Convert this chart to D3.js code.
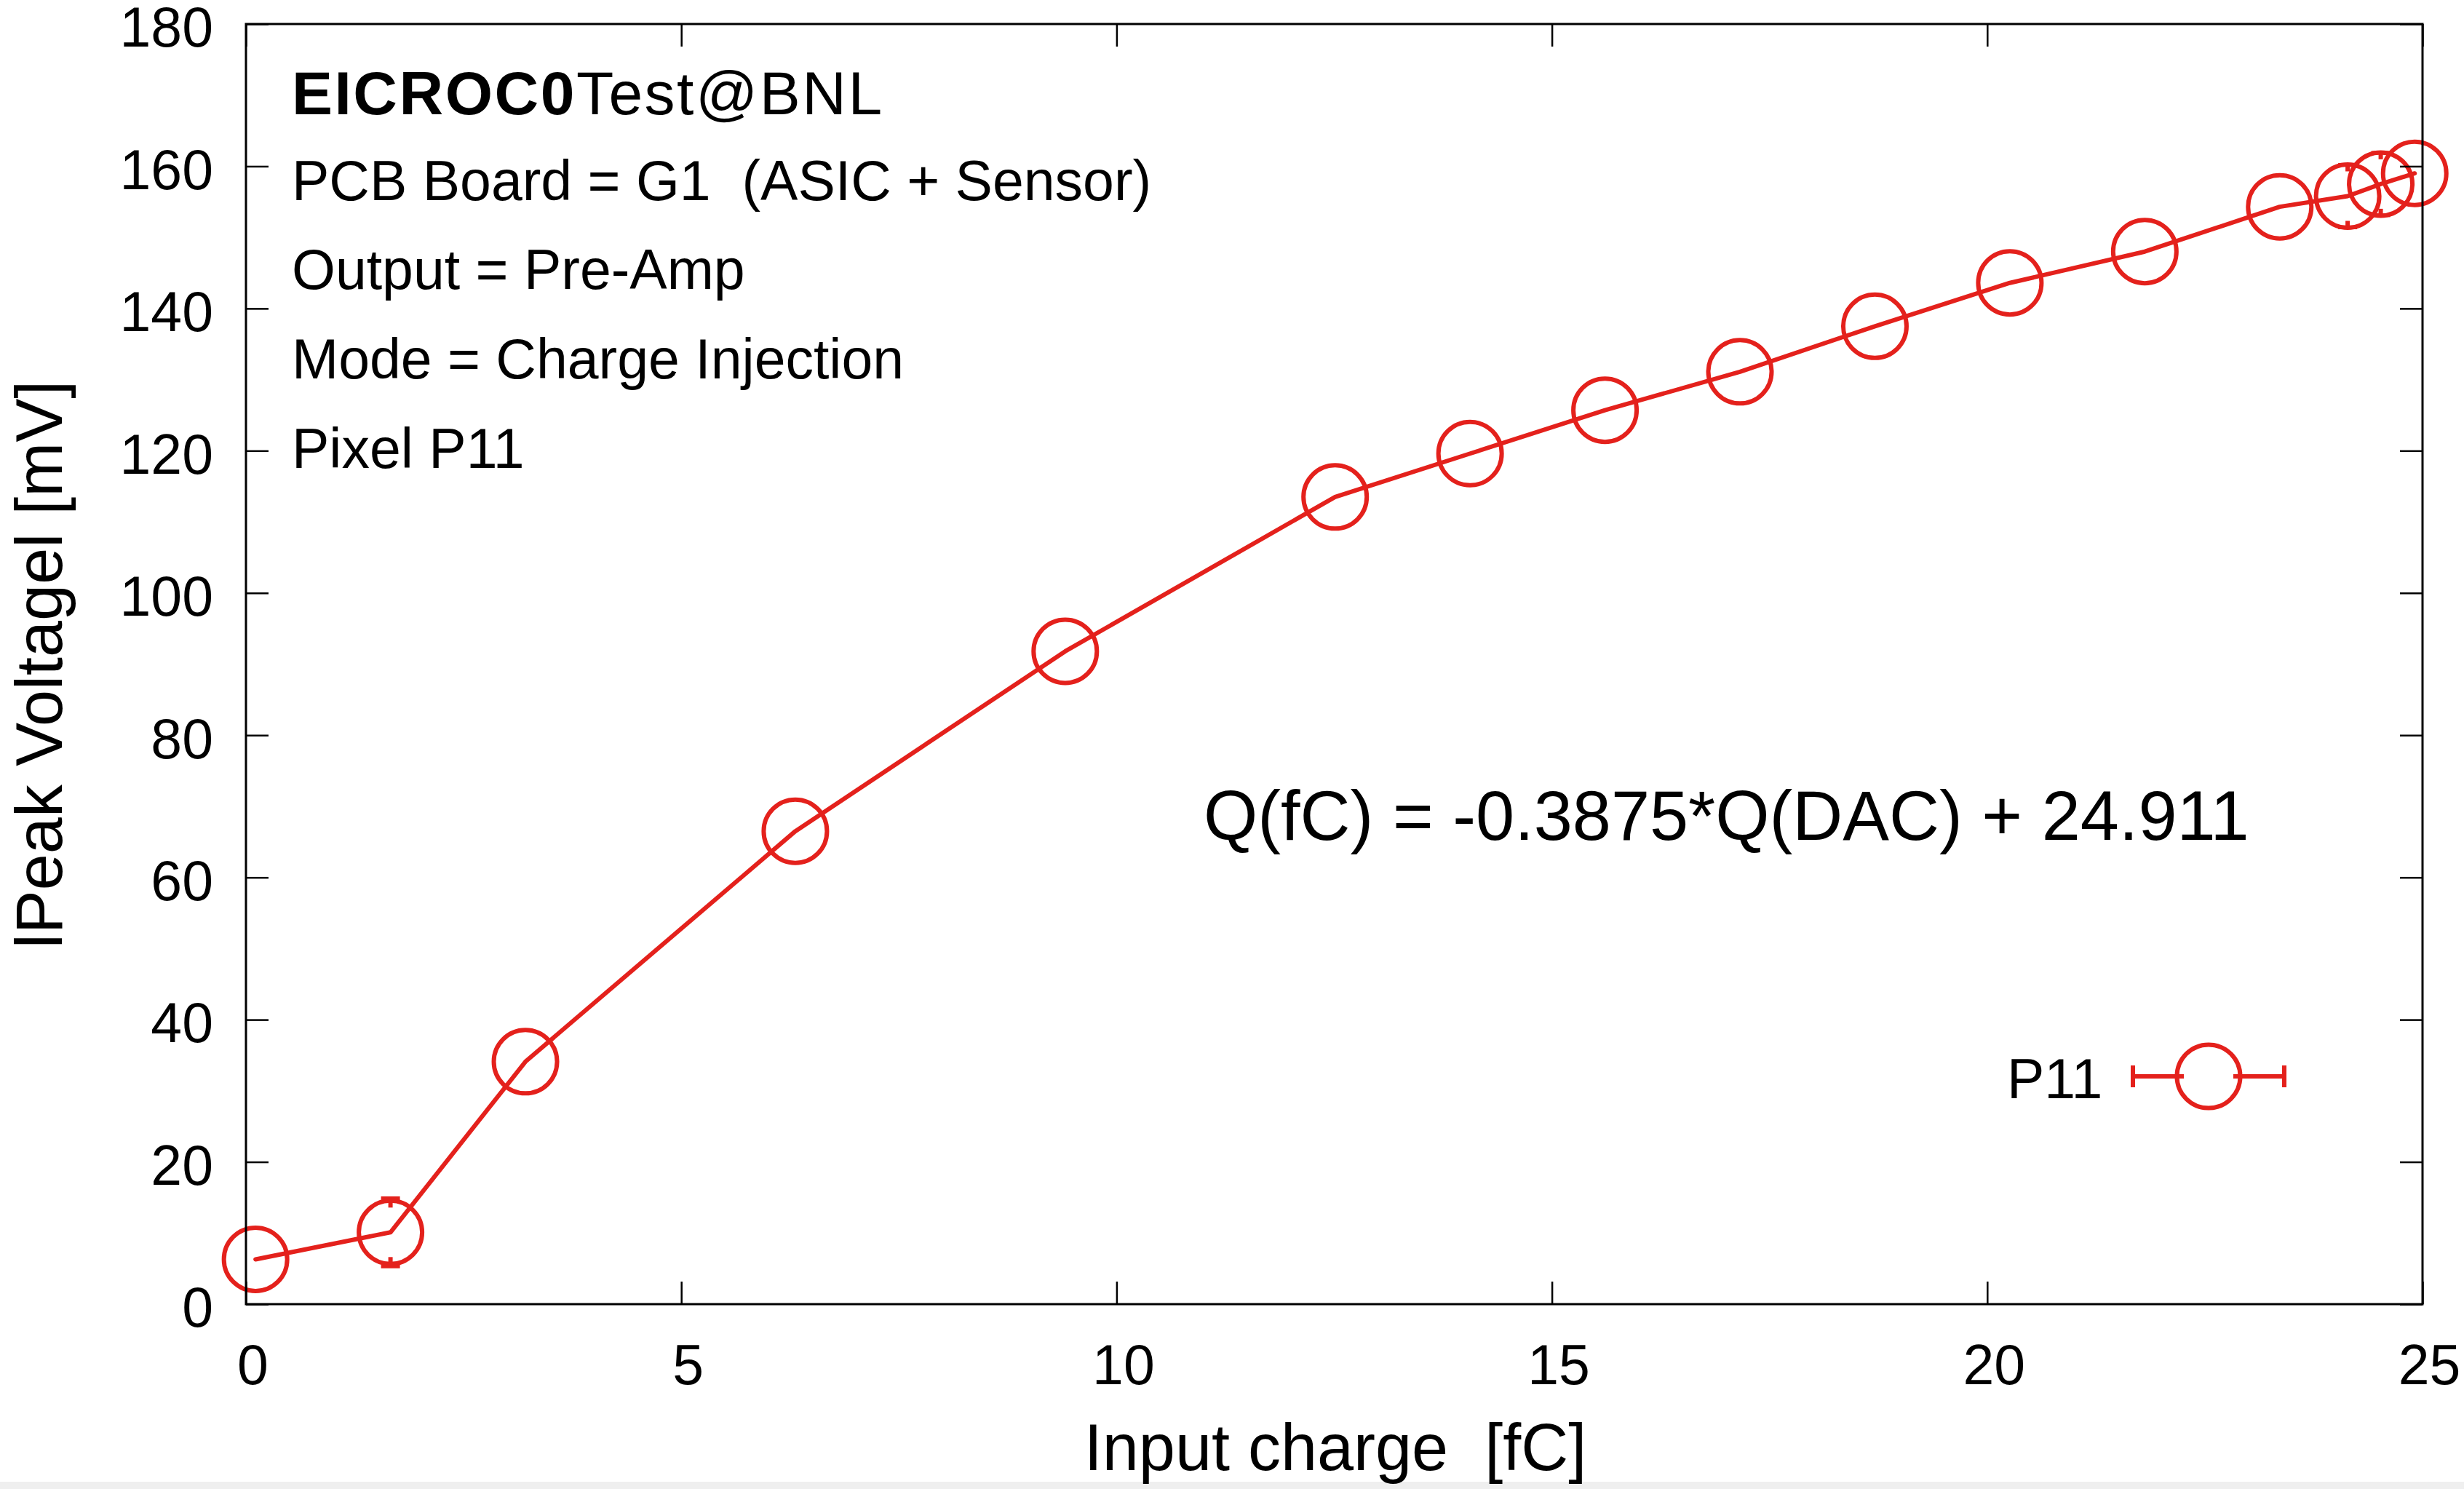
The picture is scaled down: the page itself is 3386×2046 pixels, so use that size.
<!DOCTYPE html>
<html>
<head>
<meta charset="utf-8">
<script src="https://cdn.jsdelivr.net/npm/d3@7"></script>
<style>
  html, body { margin: 0; padding: 0; background: #ffffff; }
  svg { display: block; }
  text { font-family: "Liberation Sans", Arial, Helvetica, sans-serif; fill: #000; }
</style>
</head>
<body>
<svg id="chart" width="3386" height="2046"></svg>
<script>
// Pixel P11 peak-voltage scan versus injected charge
const charge  = [0.11, 1.66, 3.21, 6.31, 9.41, 12.51, 14.06, 15.61, 17.16, 18.71, 20.26, 21.81, 23.36, 24.14, 24.52, 24.91];
const peak    = [6.3, 10.1, 34.1, 66.5, 91.8, 113.5, 119.6, 125.7, 131.1, 137.5, 143.6, 148.0, 154.3, 155.8, 157.5, 159.0];
const peakErr = [0, 4.8, 0, 0, 0, 0, 0, 0, 0, 0, 0, 0, 0, 4.4, 4.4, 0];

const xTicks = [0, 5, 10, 15, 20, 25];
const yTicks = [0, 20, 40, 60, 80, 100, 120, 140, 160, 180];

const titleBold = "EICROC0";
const titleRest = "Test@BNL";
const infoLines = ["PCB Board = G1  (ASIC + Sensor)", "Output = Pre-Amp", "Mode = Charge Injection", "Pixel P11"];
const fitLabel = "Q(fC) = -0.3875*Q(DAC) + 24.911";
const seriesName = "P11";
const xTitle = "Input charge  [fC]";
const yTitle = "lPeak Voltagel [mV]";

const W = 3386, H = 2046;
const plot = { left: 338, right: 3329, top: 33, bottom: 1792 };
const red = "#e4211c";
const markerR = 43.5;     // drawn ring radius
const barGap = 34;        // error bars start this far from the point centre

const svg = d3.select("#chart");
svg.append("rect").attr("width", W).attr("height", H).attr("fill", "#ffffff");
svg.append("rect").attr("x", 0).attr("y", 2036).attr("width", W).attr("height", 10).attr("fill", "#efefef");

const x = d3.scaleLinear().domain([0, 25]).range([plot.left, plot.right]);
const y = d3.scaleLinear().domain([0, 180]).range([plot.bottom, plot.top]);

// connecting line
const pts = charge.map((c, i) => ({ c, v: peak[i], e: peakErr[i] }));
svg.append("path")
  .datum(pts)
  .attr("fill", "none")
  .attr("stroke", red)
  .attr("stroke-width", 6)
  .attr("stroke-linejoin", "round")
  .attr("stroke-linecap", "round")
  .attr("d", d3.line().x(d => x(d.c)).y(d => y(d.v)));

// vertical error bars with caps
const errG = svg.append("g").attr("stroke", red).attr("stroke-width", 6).attr("fill", "none");
pts.forEach(d => {
  const cx = x(d.c), cy = y(d.v);
  const hi = y(d.v + d.e), lo = y(d.v - d.e);
  if (cy - hi > barGap) {
    errG.append("line").attr("x1", cx).attr("x2", cx).attr("y1", cy - barGap).attr("y2", hi);
    errG.append("line").attr("x1", cx - 13).attr("x2", cx + 13).attr("y1", hi).attr("y2", hi).attr("stroke-width", 5);
    errG.append("line").attr("x1", cx).attr("x2", cx).attr("y1", cy + barGap).attr("y2", lo);
    errG.append("line").attr("x1", cx - 13).attr("x2", cx + 13).attr("y1", lo).attr("y2", lo).attr("stroke-width", 5);
  }
});

// open circle markers
svg.append("g").selectAll("circle").data(pts).join("circle")
  .attr("cx", d => x(d.c))
  .attr("cy", d => y(d.v))
  .attr("r", markerR)
  .attr("fill", "none")
  .attr("stroke", red)
  .attr("stroke-width", 6);

// axes: ticks point inward on all four sides
const tickLen = 31;
const fontTick = 77;

const gB = svg.append("g").attr("transform", `translate(0,${plot.bottom})`)
  .call(d3.axisBottom(x).tickValues(xTicks).tickSize(-tickLen).tickSizeOuter(0).tickPadding(55).tickFormat(d3.format("d")));
const gL = svg.append("g").attr("transform", `translate(${plot.left},0)`)
  .call(d3.axisLeft(y).tickValues(yTicks).tickSize(-tickLen).tickSizeOuter(0).tickPadding(45).tickFormat(d3.format("d")));
const gT = svg.append("g").attr("transform", `translate(0,${plot.top})`)
  .call(d3.axisTop(x).tickValues(xTicks).tickSize(-tickLen).tickSizeOuter(0).tickFormat(""));
const gR = svg.append("g").attr("transform", `translate(${plot.right},0)`)
  .call(d3.axisRight(y).tickValues(yTicks).tickSize(-tickLen).tickSizeOuter(0).tickFormat(""));

[gB, gL, gT, gR].forEach(g => {
  g.select(".domain").remove();
  g.selectAll(".tick line").attr("stroke", "#000").attr("stroke-width", 2.5);
  g.selectAll(".tick text")
    .attr("font-family", "Liberation Sans, Arial, Helvetica, sans-serif")
    .attr("font-size", fontTick)
    .attr("fill", "#000");
});
gB.selectAll(".tick text").attr("dx", 9);
gL.selectAll(".tick text").attr("dy", "0.4em");

// frame
svg.append("rect")
  .attr("x", plot.left).attr("y", plot.top)
  .attr("width", plot.right - plot.left).attr("height", plot.bottom - plot.top)
  .attr("fill", "none").attr("stroke", "#000").attr("stroke-width", 3);

// axis titles
svg.append("text")
  .attr("x", 1835).attr("y", 2020)
  .attr("text-anchor", "middle")
  .attr("font-size", 90)
  .attr("xml:space", "preserve")
  .style("white-space", "pre")
  .text(xTitle);

svg.append("text")
  .attr("transform", "translate(85,913) rotate(-90)")
  .attr("text-anchor", "middle")
  .attr("font-size", 90)
  .text(yTitle);

// information block
const info = svg.append("g").attr("font-size", 77);
const t0 = info.append("text").attr("x", 401).attr("y", 157).attr("font-size", 84).attr("letter-spacing", 2.5);
t0.append("tspan").attr("font-weight", "bold").text(titleBold);
t0.append("tspan").text(titleRest);
const lineY = [275, 397, 520, 643];
infoLines.forEach((s, i) => {
  info.append("text")
    .attr("x", 401).attr("y", lineY[i])
    .attr("xml:space", "preserve")
    .style("white-space", "pre")
    .text(s);
});

// fit relation
svg.append("text")
  .attr("x", 1654).attr("y", 1154)
  .attr("font-size", 95.5)
  .text(fitLabel);

// legend
const leg = svg.append("g");
leg.append("text").attr("x", 2758).attr("y", 1509).attr("font-size", 77).text(seriesName);
const lx = 3035, ly = 1479, half = 104;
const lg = leg.append("g").attr("stroke", red).attr("stroke-width", 6).attr("fill", "none");
lg.append("line").attr("x1", lx - half).attr("x2", lx - barGap).attr("y1", ly).attr("y2", ly);
lg.append("line").attr("x1", lx + barGap).attr("x2", lx + half).attr("y1", ly).attr("y2", ly);
lg.append("line").attr("x1", lx - half).attr("x2", lx - half).attr("y1", ly - 15).attr("y2", ly + 15);
lg.append("line").attr("x1", lx + half).attr("x2", lx + half).attr("y1", ly - 15).attr("y2", ly + 15);
lg.append("circle").attr("cx", lx).attr("cy", ly).attr("r", markerR);
</script>
</body>
</html>
